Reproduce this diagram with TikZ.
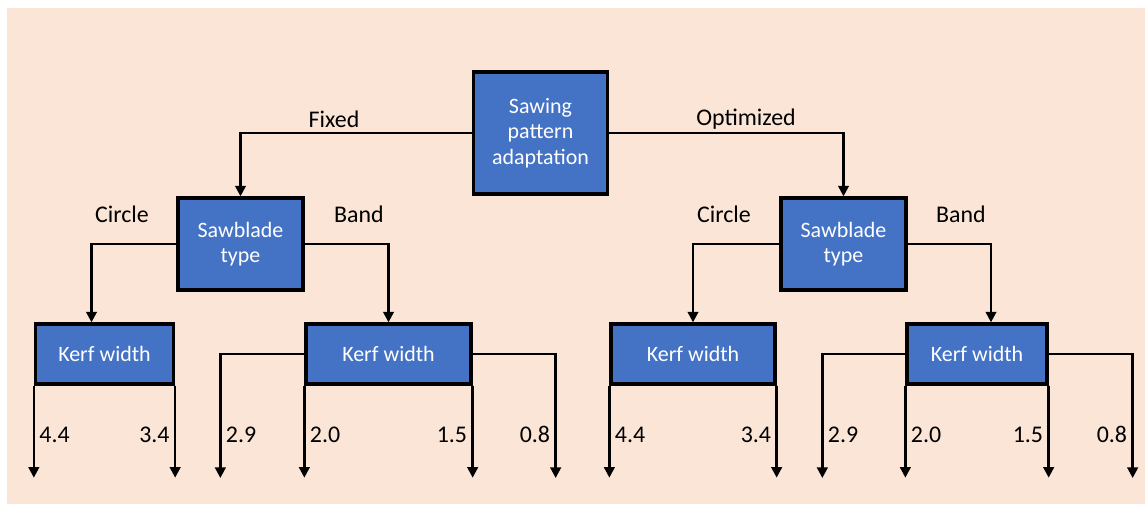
\documentclass[tikz,border=0pt]{standalone}
\usepackage{fontspec}
\setmainfont{Carlito}
\usetikzlibrary{arrows.meta,positioning}
\definecolor{boxBlue}{RGB}{68,114,196}
\definecolor{bgPeach}{RGB}{251,229,214}

\begin{document}
\begin{tikzpicture}[x=0.02cm,y=-0.02cm,
  blk/.style={rectangle,draw=black,line width=1.9pt,fill=boxBlue,text=white,
              align=center,inner sep=0pt,font=\fontsize{12.5}{14.6}\selectfont},
  lbl/.style={font=\fontsize{13.6}{16}\selectfont},
  val/.style={font=\fontsize{13.6}{16}\selectfont,inner sep=2.5pt},
  arr/.style={-{Triangle[length=6pt,width=6pt]},line width=1.35pt}
]
  \useasboundingbox (0,0) rectangle (1145,504);
  \fill[bgPeach] (7,8) rectangle (1145,504);

  \node[blk,minimum width=2.68cm,minimum height=2.44cm](top) at (540.5,133)
       {Sawing\\pattern\\adaptation};
  \node[blk,minimum width=2.5cm,minimum height=1.84cm](sb1) at (240.5,244) {Sawblade\\type};
  \node[blk,minimum width=2.5cm,minimum height=1.84cm](sb2) at (843.5,244) {Sawblade\\type};
  \node[blk,minimum width=2.76cm,minimum height=1.2cm](k1) at (104.5,354) {Kerf width};
  \node[blk,minimum width=3.3cm,minimum height=1.2cm](k2) at (388.5,354) {Kerf width};
  \node[blk,minimum width=3.28cm,minimum height=1.2cm](k3) at (693,354)   {Kerf width};
  \node[blk,minimum width=2.8cm,minimum height=1.2cm](k4) at (977,354)   {Kerf width};

  \node[lbl](fixed) at (334,119) {Fixed};
  \node[lbl](opt)   at (746,119) {Optimized};
  \node[lbl](c1)    at (122,214) {Circle};
  \node[lbl](b1)    at (359,214) {Band};
  \node[lbl](c2)    at (724,214) {Circle};
  \node[lbl](b2)    at (961,214) {Band};

  \draw[arr](top.west)-|(sb1.north);
  \draw[arr](top.east)-|(sb2.north);
  \draw[arr](sb1.west)-|([xshift=-0.26cm]k1.north);
  \draw[arr](sb1.east)-|(k2.north);
  \draw[arr](sb2.west)-|(k3.north);
  \draw[arr](sb2.east)-|([xshift=0.28cm]k4.north);

  % circle saw, fixed
  \draw[arr](k1.south west)--node[val,right,pos=0.53]{4.4}++(0,92);
  \draw[arr](k1.south east)--node[val,left,pos=0.53]{3.4}++(0,92);
  % band saw, fixed
  \draw[arr](k2.west)--++(-84,0)--node[val,right,pos=0.65]{2.9}++(0,124);
  \draw[arr](k2.south west)--node[val,right,pos=0.53]{2.0}++(0,92);
  \draw[arr](k2.south east)--node[val,left,pos=0.53]{1.5}++(0,92);
  \draw[arr](k2.east)--++(83,0)--node[val,left,pos=0.65]{0.8}++(0,124);
  % circle saw, optimized
  \draw[arr](k3.south west)--node[val,right,pos=0.53]{4.4}++(0,92);
  \draw[arr](k3.south east)--node[val,left,pos=0.53]{3.4}++(0,92);
  % band saw, optimized
  \draw[arr](k4.west)--++(-83,0)--node[val,right,pos=0.65]{2.9}++(0,124);
  \draw[arr](k4.south west)--node[val,right,pos=0.53]{2.0}++(0,92);
  \draw[arr](k4.south east)--node[val,left,pos=0.53]{1.5}++(0,92);
  \draw[arr](k4.east)--++(84,0)--node[val,left,pos=0.65]{0.8}++(0,124);
\end{tikzpicture}
\end{document}
